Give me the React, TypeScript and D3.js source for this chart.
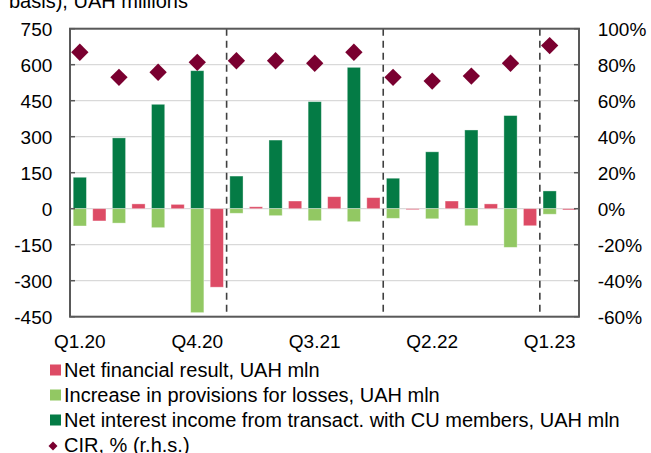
import React from "react";
import * as d3 from "d3";

const quarters = ["Q1.20","Q2.20","Q3.20","Q4.20","Q1.21","Q2.21","Q3.21","Q4.21","Q1.22","Q2.22","Q3.22","Q4.22","Q1.23"];
const netInterest = [131, 295, 435, 575, 136, 286, 446, 589, 127, 237, 328, 388, 74];
const provisions = [-72, -60, -79, -433, -19, -29, -50, -54, -40, -42, -71, -161, -23];
const netResult = [-51, 20, 18, -327, 8, 32, 50, 46, -3, 32, 20, -71, -5];
const cir = [86.9, 73.0, 75.8, 81.3, 82.2, 82.2, 80.8, 86.9, 73.0, 70.9, 73.7, 80.8, 90.6];
const leftTicks = [-450, -300, -150, 0, 150, 300, 450, 600, 750];
const rightTicks = [-60, -40, -20, 0, 20, 40, 60, 80, 100];
const xLabels = ["Q1.20", "Q4.20", "Q3.21", "Q2.22", "Q1.23"];
const yearStarts = ["Q1.21", "Q1.22", "Q1.23"];
const legendItems = [
  { label: "Net financial result, UAH mln", color: "#DD4B65", kind: "sq" },
  { label: "Increase in provisions for losses, UAH mln", color: "#92C863", kind: "sq" },
  { label: "Net interest income from transact. with CU members, UAH mln", color: "#047B45", kind: "sq" },
  { label: "CIR, % (r.h.s.)", color: "#7A0030", kind: "dia" },
];

const W = 651, H = 453;
const L = 70, R = 579, T = 28.7, B = 316.7;
const FONT = "Liberation Sans, Arial, sans-serif";

export default function App() {
  const x = d3.scaleBand<string>().domain(quarters).range([L, R]).paddingInner(0).paddingOuter(0);
  const inner = d3.scaleBand<string>().domain(["a", "b"]).range([0, x.bandwidth()]).paddingInner(0.323).paddingOuter(0.164);
  const y = d3.scaleLinear().domain([-450, 750]).range([B, T]);
  const y2 = d3.scaleLinear().domain([-60, 100]).range([B, T]);
  const bw = inner.bandwidth();
  const diamond = d3.symbol().type(d3.symbolSquare).size(150)();
  const diamondSmall = d3.symbol().type(d3.symbolSquare).size(40)();
  const greenCenter = (q: string) => (x(q) as number) + (inner("a") as number) + bw / 2;

  const bar = (q: string, slot: string, v: number, color: string, key: string) => {
    const x0 = (x(q) as number) + (inner(slot) as number);
    const y0 = y(Math.max(0, v));
    const h = Math.abs(y(v) - y(0));
    return <rect key={key} x={x0} y={y0} width={bw} height={Math.max(h, 1)} fill={color} stroke="#ffffff" strokeOpacity={0.45} strokeWidth={0.8} />;
  };

  return (
    <svg width={W} height={H} style={{ position: "absolute", left: 0, top: 0 }} fontFamily={FONT}>
      <rect x={0} y={0} width={W} height={H} fill="#fff" />
      <text x={9} y={8} fontSize={20} fill="#000">basis), UAH millions</text>
      {leftTicks.map((t) => (
        <line key={"g" + t} x1={L} x2={R} y1={y(t)} y2={y(t)} stroke="#D9D9D9" strokeWidth={1.2} />
      ))}
      {quarters.map((q, i) => bar(q, "a", netInterest[i], "#047B45", "ni" + i))}
      {quarters.map((q, i) => bar(q, "a", provisions[i], "#92C863", "pr" + i))}
      {quarters.map((q, i) => bar(q, "b", netResult[i], "#DD4B65", "nr" + i))}
      {yearStarts.map((q) => (
        <line key={"d" + q} x1={x(q) as number} x2={x(q) as number} y1={T} y2={B} stroke="#404040" strokeWidth={1.6} strokeDasharray="7 5" />
      ))}
      {quarters.map((q, i) => (
        <path key={"c" + i} d={diamond as string}
          transform={`translate(${greenCenter(q)},${y2(cir[i])}) rotate(45)`}
          fill="#7A0030" />
      ))}
      <rect x={L} y={T} width={R - L} height={B - T} fill="none" stroke="#595959" strokeWidth={2} />
      {leftTicks.map((t) => (
        <g key={"lt" + t}>
          <line x1={L} x2={L + 5} y1={y(t)} y2={y(t)} stroke="#595959" strokeWidth={1.5} />
          <text x={52.3} y={y(t)} dy="0.36em" textAnchor="end" fontSize={19} fill="#000">{t}</text>
        </g>
      ))}
      {rightTicks.map((t) => (
        <g key={"rt" + t}>
          <line x1={R - 5} x2={R} y1={y2(t)} y2={y2(t)} stroke="#595959" strokeWidth={1.5} />
          <text x={597.7} y={y2(t)} dy="0.36em" textAnchor="start" fontSize={19} fill="#000">{t + "%"}</text>
        </g>
      ))}
      {xLabels.map((l) => (
        <text key={"xl" + l} x={greenCenter(l)} y={348} textAnchor="middle" fontSize={19} fill="#000">{l}</text>
      ))}
      {legendItems.map((it, i) => {
        const cy = 370 + i * 25;
        return (
          <g key={"lg" + i}>
            {it.kind === "sq" ? (
              <rect x={50} y={cy - 5.5} width={11} height={11} fill={it.color} />
            ) : (
              <path d={diamondSmall as string} transform={`translate(53,${cy + 1}) rotate(45)`} fill={it.color} />
            )}
            <text x={64} y={cy + 7} fontSize={20} fill="#000">{it.label}</text>
          </g>
        );
      })}
    </svg>
  );
}
